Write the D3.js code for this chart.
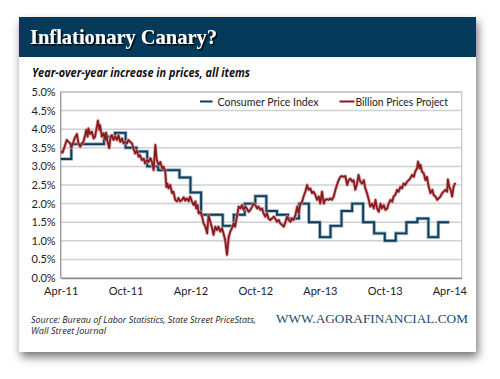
<!DOCTYPE html>
<html><head><meta charset="utf-8">
<script src="https://cdn.jsdelivr.net/npm/d3@7"></script>
<style>
html,body{margin:0;padding:0;background:#fff;}
svg{display:block;}
</style></head>
<body>
<svg id="c" width="500" height="379"></svg>
<script>
// ---------- DATA ----------
const titleText = "Inflationary Canary?";
const subtitleText = "Year-over-year increase in prices, all items";
const sourceLines = ["Source: Bureau of Labor Statistics, State Street PriceStats,", "Wall Street Journal"];
const brandText = "WWW.AGORAFINANCIAL.COM";
const seriesNames = ["Consumer Price Index", "Billion Prices Project"];
const yTicks = [0, 0.5, 1, 1.5, 2, 2.5, 3, 3.5, 4, 4.5, 5];
const xTickDates = ["2011-04-01","2011-10-01","2012-04-01","2012-10-01","2013-04-01","2013-10-01","2014-04-01"];
const xDomain = ["2011-04-01","2014-05-06"];

const cpiMonths = ["2011-04","2011-05","2011-06","2011-07","2011-08","2011-09","2011-10","2011-11","2011-12",
 "2012-01","2012-02","2012-03","2012-04","2012-05","2012-06","2012-07","2012-08","2012-09","2012-10","2012-11","2012-12",
 "2013-01","2013-02","2013-03","2013-04","2013-05","2013-06","2013-07","2013-08","2013-09","2013-10","2013-11","2013-12",
 "2014-01","2014-02","2014-03"];
const cpiValues = [3.2,3.6,3.6,3.6,3.8,3.9,3.5,3.4,3.0,
 2.9,2.9,2.7,2.3,1.7,1.7,1.4,1.7,2.0,2.2,1.8,1.7,
 1.6,2.0,1.5,1.1,1.4,1.8,2.0,1.5,1.2,1.0,1.2,1.5,
 1.6,1.1,1.5];

const bppDates = ["2011-04-02","2011-04-06","2011-04-12","2011-04-18","2011-04-23","2011-04-28","2011-05-01","2011-05-04","2011-05-10","2011-05-17",
"2011-05-21","2011-05-26","2011-05-31","2011-06-04","2011-06-09","2011-06-12","2011-06-16","2011-06-18","2011-06-23","2011-06-28",
"2011-07-03","2011-07-07","2011-07-12","2011-07-15","2011-07-19","2011-07-21","2011-07-26","2011-07-31","2011-08-05","2011-08-07",
"2011-08-12","2011-08-16","2011-08-19","2011-08-23","2011-08-28","2011-09-02","2011-09-07","2011-09-11","2011-09-16","2011-09-21",
"2011-09-25","2011-09-30","2011-10-05","2011-10-09","2011-10-14","2011-10-19","2011-10-23","2011-10-28","2011-11-02","2011-11-07",
"2011-11-11","2011-11-16","2011-11-21","2011-11-25","2011-11-30","2011-12-05","2011-12-10","2011-12-14","2011-12-19","2011-12-24",
"2011-12-28","2012-01-02","2012-01-07","2012-01-12","2012-01-16","2012-01-21","2012-01-24","2012-01-27","2012-01-30","2012-02-04",
"2012-02-09","2012-02-13","2012-02-18","2012-02-23","2012-02-27","2012-03-03","2012-03-08","2012-03-13","2012-03-17","2012-03-22",
"2012-03-27","2012-03-31","2012-04-05","2012-04-10","2012-04-15","2012-04-17","2012-04-21","2012-04-24","2012-04-29","2012-05-03",
"2012-05-08","2012-05-13","2012-05-18","2012-05-22","2012-05-27","2012-06-01","2012-06-05","2012-06-10","2012-06-15","2012-06-19",
"2012-06-24","2012-06-29","2012-07-03","2012-07-08","2012-07-13","2012-07-18","2012-07-22","2012-07-27","2012-08-01","2012-08-05",
"2012-08-10","2012-08-15","2012-08-20","2012-08-24","2012-08-29","2012-09-03","2012-09-07","2012-09-12","2012-09-17","2012-09-22",
"2012-09-26","2012-10-01","2012-10-06","2012-10-10","2012-10-15","2012-10-20","2012-10-24","2012-10-29","2012-11-03","2012-11-07",
"2012-11-12","2012-11-17","2012-11-22","2012-11-26","2012-12-01","2012-12-06","2012-12-10","2012-12-15","2012-12-20","2012-12-25",
"2012-12-29","2013-01-03","2013-01-08","2013-01-12","2013-01-17","2013-01-22","2013-01-27","2013-01-31","2013-02-05","2013-02-10",
"2013-02-14","2013-02-19","2013-02-24","2013-02-28","2013-03-05","2013-03-10","2013-03-14","2013-03-19","2013-03-24","2013-03-29",
"2013-04-02","2013-04-07","2013-04-12","2013-04-16","2013-04-21","2013-04-26","2013-04-30","2013-05-05","2013-05-10","2013-05-15",
"2013-05-19","2013-05-24","2013-05-29","2013-06-02","2013-06-07","2013-06-12","2013-06-17","2013-06-21","2013-06-26","2013-07-01",
"2013-07-05","2013-07-10","2013-07-15","2013-07-19","2013-07-24","2013-07-29","2013-08-03","2013-08-07","2013-08-12","2013-08-17",
"2013-08-21","2013-08-26","2013-08-31","2013-09-05","2013-09-09","2013-09-14","2013-09-19","2013-09-23","2013-09-28","2013-10-03",
"2013-10-08","2013-10-12","2013-10-17","2013-10-22","2013-10-26","2013-10-31","2013-11-05","2013-11-09","2013-11-14","2013-11-19",
"2013-11-23","2013-11-28","2013-12-03","2013-12-08","2013-12-12","2013-12-17","2013-12-22","2013-12-26","2013-12-31","2014-01-03",
"2014-01-07","2014-01-10","2014-01-14","2014-01-19","2014-01-24","2014-01-28","2014-02-02","2014-02-07","2014-02-12","2014-02-16",
"2014-02-21","2014-02-26","2014-03-02","2014-03-07","2014-03-12","2014-03-16","2014-03-21","2014-03-26","2014-03-28","2014-04-01",
"2014-04-05","2014-04-09","2014-04-13","2014-04-18"];
const bppValues = [3.40,3.37,3.53,3.71,3.66,3.62,3.51,3.57,3.75,3.87,
3.62,3.53,3.62,3.66,3.84,3.98,3.80,4.02,3.87,3.93,
3.75,3.80,4.07,4.23,3.98,4.11,3.80,3.89,3.71,3.91,
3.62,3.49,3.75,3.84,3.71,3.80,3.71,3.84,3.66,3.75,
3.62,3.66,3.62,3.71,3.66,3.62,3.49,3.35,3.42,3.26,
3.30,3.17,3.21,3.08,3.17,3.12,3.22,3.13,2.90,3.58,
3.17,3.04,3.12,2.95,2.99,2.86,2.45,2.54,2.41,2.50,
2.28,2.32,2.10,2.06,2.15,2.06,2.10,2.17,2.08,2.14,
2.06,2.19,2.06,1.96,2.06,1.87,1.96,1.74,1.78,1.69,
1.47,1.38,1.20,1.69,1.51,1.34,1.16,1.38,1.29,1.38,
1.25,1.34,1.20,1.02,0.62,1.11,1.24,1.34,1.47,1.38,
1.65,1.92,1.87,1.96,1.83,1.92,1.87,1.78,1.83,1.92,
2.00,1.96,1.87,1.92,1.83,1.87,1.74,1.65,1.74,1.60,
1.56,1.60,1.65,1.60,1.51,1.56,1.47,1.43,1.38,1.51,
1.65,1.56,1.51,1.60,1.56,1.69,1.92,1.74,2.00,2.05,
2.19,2.32,2.50,2.37,2.41,2.28,2.32,2.24,2.10,2.19,
2.00,2.32,2.00,2.10,2.12,2.10,2.14,2.10,2.19,2.37,
2.50,2.63,2.72,2.74,2.72,2.74,2.50,2.63,2.67,2.59,
2.63,2.37,2.54,2.77,2.59,2.54,2.63,2.41,2.28,2.10,
1.92,2.00,1.87,2.10,1.87,1.78,2.00,1.87,1.96,1.83,
1.87,2.00,2.10,2.05,2.19,2.24,2.37,2.32,2.45,2.41,
2.54,2.50,2.59,2.63,2.68,2.77,2.72,2.86,2.95,3.13,
2.95,3.04,2.86,2.81,2.63,2.72,2.45,2.28,2.37,2.23,
2.19,2.10,2.14,2.19,2.28,2.32,2.37,2.32,2.65,2.45,
2.37,2.19,2.45,2.56];

// ---------- STYLE ----------
const cpiColor = "#0e3d5c", bppColor = "#8a1a1f";
const headerColor = "#053a5a";

const svg = d3.select("#c");
const defs = svg.append("defs");
const sh = defs.append("filter").attr("id","sh").attr("x","-10%").attr("y","-10%").attr("width","125%").attr("height","130%");
sh.append("feDropShadow").attr("dx",2).attr("dy",5).attr("stdDeviation",5).attr("flood-color","#000").attr("flood-opacity",0.55);
const tsh = defs.append("filter").attr("id","tsh").attr("x","-5%").attr("y","-20%").attr("width","110%").attr("height","150%");
tsh.append("feDropShadow").attr("dx",1.5).attr("dy",1.5).attr("stdDeviation",0.6).attr("flood-color","#000").attr("flood-opacity",0.9);
const glow = defs.append("filter").attr("id","glow").attr("x","-5%").attr("y","-5%").attr("width","110%").attr("height","110%");
glow.append("feGaussianBlur").attr("stdDeviation",0.6);

// card
const card = {x:19, y:17, w:457, h:335};
svg.append("rect").attr("x",card.x).attr("y",card.y).attr("width",card.w).attr("height",card.h)
  .attr("fill","#fff").attr("filter","url(#sh)");
svg.append("rect").attr("x",card.x).attr("y",card.y).attr("width",card.w).attr("height",40).attr("fill",headerColor);

svg.append("text").attr("x",30).attr("y",43.5).text(titleText)
  .attr("font-family","'Liberation Serif', 'DejaVu Serif', serif").attr("font-weight","bold")
  .attr("font-size",22).attr("fill","#fff").attr("textLength",187).attr("lengthAdjust","spacingAndGlyphs")
  .attr("filter","url(#tsh)");

svg.append("text").attr("x",32).attr("y",77).text(subtitleText)
  .attr("font-family","'Open Sans', 'Noto Sans', sans-serif").attr("font-weight","bold").attr("font-style","italic")
  .attr("font-size",11.5).attr("fill","#111").attr("textLength",218).attr("lengthAdjust","spacingAndGlyphs");

// plot
const plot = {l:60.7, r:461.7, t:92, b:278};
const x = d3.scaleTime().domain(xDomain.map(d=>new Date(d+"T00:00:00"))).range([plot.l, plot.r]);
const y = d3.scaleLinear().domain([0,5]).range([plot.b, plot.t]);

const g = svg.append("g");
// gridlines
g.selectAll("line.grid").data(yTicks.filter(v=>v>0)).enter().append("line")
  .attr("x1",plot.l).attr("x2",plot.r).attr("y1",d=>y(d)).attr("y2",d=>y(d))
  .attr("stroke","#d0d0d0").attr("stroke-width",1.5);
// border
g.append("rect").attr("x",plot.l).attr("y",plot.t).attr("width",plot.r-plot.l).attr("height",plot.b-plot.t)
  .attr("fill","none").attr("stroke","#c4c4c4").attr("stroke-width",1.2);
// left axis line
g.append("line").attr("x1",plot.l).attr("x2",plot.l).attr("y1",plot.t).attr("y2",plot.b).attr("stroke","#9a9a9a").attr("stroke-width",1.2);

// y axis
const yAxis = d3.axisLeft(y).tickValues(yTicks).tickFormat(d=>d.toFixed(1)+"%").tickSize(0).tickPadding(5);
const ya = svg.append("g").attr("transform",`translate(${plot.l},0)`).call(yAxis);
ya.select(".domain").remove();
ya.selectAll("text").attr("font-family","Lato, 'Open Sans', sans-serif").attr("font-size",11).attr("fill","#222");

// x axis
const xAxis = d3.axisBottom(x).tickValues(xTickDates.map(d=>new Date(d+"T00:00:00"))).tickFormat(d3.timeFormat("%b-%y")).tickSize(0).tickPadding(9);
const xa = svg.append("g").attr("transform",`translate(0,${plot.b})`).call(xAxis);
xa.select(".domain").attr("stroke","#8a8a8a").attr("stroke-width",1.6);
xa.selectAll("text").attr("font-family","Lato, 'Open Sans', sans-serif").attr("font-size",11).attr("fill","#222");

// CPI step line
const cpiPts = cpiMonths.map((m,i)=>({d:new Date(m+"-01T00:00:00"), v:cpiValues[i]}));
const lastCpi = cpiPts[cpiPts.length-1];
cpiPts.push({d:d3.timeMonth.offset(lastCpi.d,1), v:lastCpi.v});
const stepLine = d3.line().x(d=>x(d.d)).y(d=>y(d.v)).curve(d3.curveStepAfter);
svg.append("path").attr("d",stepLine(cpiPts)).attr("fill","none").attr("stroke","#9fb8c8").attr("stroke-width",3.6).attr("stroke-linejoin","miter");
svg.append("path").attr("d",stepLine(cpiPts)).attr("fill","none").attr("stroke",cpiColor).attr("stroke-width",1.9).attr("stroke-linejoin","miter");

// BPP line
const bppPts = bppDates.map((d,i)=>({d:new Date(d+"T00:00:00"), v:bppValues[i]}));
const bppLine = d3.line().x(d=>x(d.d)).y(d=>y(d.v));
svg.append("path").attr("d",bppLine(bppPts)).attr("fill","none").attr("stroke","#d09a9a").attr("stroke-width",3.4).attr("stroke-linejoin","round").attr("opacity",0.8);
svg.append("path").attr("d",bppLine(bppPts)).attr("fill","none").attr("stroke",bppColor).attr("stroke-width",1.8).attr("stroke-linejoin","round");

// legend
const leg = [{name:seriesNames[0], c:cpiColor, x1:200, x2:212.5, tx:217.5, tw:101},
             {name:seriesNames[1], c:bppColor, x1:339.5, x2:354.5, tx:355.5, tw:92.5}];
const lg = svg.append("g");
leg.forEach(l=>{
  lg.append("line").attr("x1",l.x1).attr("x2",l.x2).attr("y1",101.5).attr("y2",101.5).attr("stroke",l.c).attr("stroke-width",2);
  lg.append("text").attr("x",l.tx).attr("y",105.5).text(l.name).attr("font-family","Lato, 'Open Sans', sans-serif")
    .attr("font-size",11).attr("fill","#222").attr("textLength",l.tw).attr("lengthAdjust","spacingAndGlyphs");
});

// source
sourceLines.forEach((s,i)=>{
  svg.append("text").attr("x",31).attr("y",322.5+i*11.5).text(s)
    .attr("font-family","'Open Sans', 'Noto Sans', sans-serif").attr("font-style","italic").attr("font-size",9.5).attr("fill","#222")
    .attr("textLength", i===0?225:null).attr("lengthAdjust","spacingAndGlyphs");
});
svg.selectAll("text").filter(function(){return this.textContent===sourceLines[1];}).attr("textLength",75);

svg.append("text").attr("x",276).attr("y",323).text(brandText)
  .attr("font-family","'Liberation Serif', 'DejaVu Serif', serif").attr("font-size",11.5).attr("fill","#1d4a6c")
  .attr("textLength",192).attr("lengthAdjust","spacingAndGlyphs");
</script>
</body></html>
